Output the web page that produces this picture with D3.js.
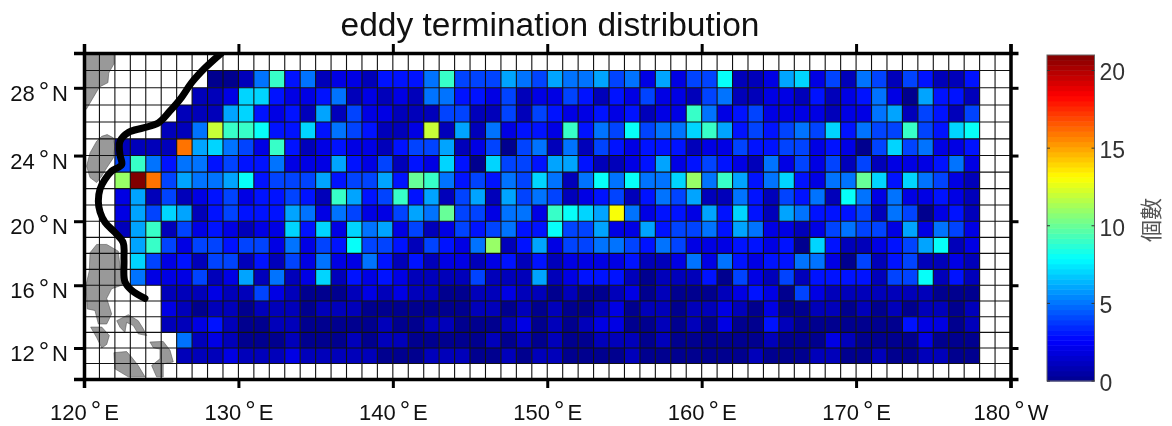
<!DOCTYPE html>
<html>
<head>
<meta charset="utf-8">
<title>eddy termination distribution</title>
<script src="https://cdnjs.cloudflare.com/ajax/libs/d3/7.8.5/d3.min.js"></script>
<style>
    html, body { margin: 0; background: #fff; }
    svg { display: block; filter: blur(0.7px); font-family: "Liberation Sans", Arial, sans-serif; }
</style>
</head>
<body>
<svg id="chart" width="1172" height="426"></svg>
<script>
const _ = null;

// counts per 1 degree box, columns are 122E .. 177E
const firstLon = 122;
const rowLats = [28, 27, 26, 25, 24, 23, 22, 21, 20, 19, 18, 17, 16, 15, 14, 13, 12, 11];
const row28 = [_,_,_,_,_,_, 0,0,1,5,9,3, 5, 1,2,2,1,3,3,3,5,9,4,4,4,6,5, 4,6,5,5,6,4,5,2,6,2,4,4,8,1,1, 2,6,7,2,4,1,5,4,1,4,3,1,1,3];
const row27 = [_,_,_,_,_, 1,1,2,7,7,3,2, 2, 3,5,1,2,1,2,1,5,5,3,3,2,4,1, 2,2,4,3,1,3,2,4,2,2,1,4,5,1,1, 2,2,1,3,1,2,3,5,2,0,6,3,3,1];
const row26 = [_,_,_,_, 1,1,1,6,7,3,2,3, 1, 6,1,4,2,2,1,1,1,4,4,1,1,4,1, 4,3,2,2,3,2,3,1,2,2,9,5,2,3,4, 2,2,2,2,1,2,2,5,6,1,4,3,1,4];
const row25 = [_,_,_, 1,1,5,12,9,9,8,3,3, 7, 3,5,4,3,1,1,2,12,1,6,1,5,2,3, 3,2,9,3,5,4,8,4,5,5,7,9,6,3,4, 3,4,5,4,7,3,5,4,4,9,4,3,7,8];
const row24 = [1,1,1,1,16,6,7,5,4,2,9,3, 1, 2,3,2,2,1,3,4,4,6,1,2,4,0,4, 5,1,5,1,4,3,2,3,3,3,1,2,2,4,3, 3,4,4,2,3,2,0,4,7,4,5,2,2,3];
const row23 = [4,9,5,3,5,5,3,4,3,3,5,2, 2, 2,6,3,2,4,1,3,2,7,3,0,7,4,4, 3,6,6,3,1,1,2,3,6,2,3,4,3,2,1, 5,2,4,2,4,1,4,1,2,2,2,3,5,2];
const row22 = [11,21,16,4,6,5,5,6,8,3,4,4, 4, 6,3,4,4,6,3,10,9,5,3,4,3,5,4, 7,5,1,5,8,5,8,5,5,7,11,5,9,6,3, 5,7,3,2,5,5,10,7,3,7,5,4,2,1];
const row21 = [2,6,1,4,1,2,3,4,2,3,3,4, 3, 1,9,6,3,4,9,3,6,1,4,6,1,6,4, 5,4,1,2,3,4,1,3,5,4,6,1,1,5,3, 1,4,3,5,1,8,5,2,5,2,2,3,2,1];
const row20 = [2,6,4,7,6,1,3,4,3,3,3,6, 5, 2,5,4,2,2,4,6,5,10,4,4,2,5,5, 2,9,8,7,6,13,5,2,3,3,2,6,3,7,3, 1,6,5,3,3,3,4,1,5,4,0,2,3,1];
const row19 = [1,6,9,1,4,2,3,2,1,2,2,7, 3, 7,2,7,5,6,2,4,1,2,4,3,4,5,3, 3,8,4,4,6,2,2,6,3,4,4,5,3,6,5, 2,2,1,2,4,5,4,4,2,6,2,5,4,2];
const row18 = [_, 6,9,4,2,4,4,3,4,4,2,5, 2, 4,3,8,4,4,3,1,4,3,2,5,11,1,3, 6,2,4,4,5,5,4,3,5,4,2,2,2,3,3, 2,3,0,7,3,1,1,2,3,4,6,8,1,2];
const row17 = [_, 7,4,2,3,1,4,4,1,3,1,4, 2, 5,2,2,5,3,1,3,1,2,2,1,2,3,1, 3,1,2,2,2,2,3,1,1,2,5,2,5,3,2, 3,3,5,5,2,0,4,1,3,4,1,1,2,1];
const row16 = [_, 5,2,2,2,4,1,2,6,1,5,1, 2, 7,1,3,2,3,2,1,1,1,1,4,1,1,1, 6,1,2,3,3,3,1,0,1,1,1,3,0,4,2, 1,4,1,3,3,3,3,1,4,4,8,1,3,1];
const row15 = [_,_,_, 1,1,1,2,1,1,4,2,1, 0, 0,0,1,2,1,2,1,1,0,0,1,1,2,1, 1,0,1,0,0,1,2,0,1,0,0,0,1,2,3, 2,0,4,2,1,1,1,1,1,1,1,0,0,0];
const row14 = [_,_,_, 2,1,0,1,1,0,1,1,1, 0, 1,1,1,0,0,0,0,0,0,0,1,1,0,1, 0,1,0,0,1,2,0,1,1,0,1,1,2,1,0, 2,0,0,1,1,0,1,0,1,0,1,1,0,1];
const row13 = [_,_,_, 1,1,2,3,1,0,0,1,1, 0, 0,0,0,0,1,0,0,1,1,0,0,0,1,2, 0,1,0,1,2,2,0,0,1,0,1,0,2,0,0, 3,1,0,0,0,0,0,0,0,3,2,2,0,1];
const row12 = [_,_,_,_, 5,1,2,1,0,0,0,1, 0, 0,0,1,0,1,1,0,0,0,0,0,1,0,1, 0,1,0,0,1,1,1,0,1,0,0,0,0,0,0, 1,0,0,0,2,1,0,0,0,0,2,0,0,0];
const row11 = [_,_,_,_, 1,1,1,2,1,1,1,2, 1, 1,1,1,1,0,0,0,1,1,1,0,0,1,0, 1,1,0,0,0,0,1,0,0,0,0,0,0,0,1, 0,0,0,1,1,0,0,1,0,0,1,1,0,0];
const rows = [row28, row27, row26, row25, row24, row23, row22, row21, row20, row19, row18, row17, row16, row15, row14, row13, row12, row11];

const lonTicks = [120, 130, 140, 150, 160, 170, 180];
const latTicks = [12, 16, 20, 24, 28];
const colorTicks = [0, 5, 10, 15, 20];

// coastlines, lon/lat
const chinaCoast = [[120,30],[121.94,30],[121.95,29.4],[121.6,28.85],[121.55,28.3],[121,28.05],[120.15,26.75],[120,26.9]];
const taiwan = [[121.5,25.25],[121.9,25.06],[122,24.56],[121.9,23.86],[121.47,23.26],[121.15,22.76],[120.82,22.37],[120.39,22.67],[120.17,23.36],[120.39,24.16],[120.82,24.86],[121.15,25.15]];
const luzon = [[120.39,18.04],[120.82,18.56],[121.47,18.56],[122.22,18.14],[122.33,17.2],[122.44,16],[121.79,15.78],[121.47,15.17],[121.79,14.18],[121.47,13.54],[120.93,13.54],[120.71,14.4],[120.21,14.5],[120.13,16],[120.34,16.9]];
const bicol = [[122.12,13.75],[122.87,14.13],[123.51,13.75],[123.84,13.23],[124.06,12.8],[123.51,12.91],[123.19,13.44],[122.76,13.64],[122.65,13],[122.33,13.33]];
const mindoro = [[120.43,13.34],[121.15,13.34],[121.64,12.8],[121.47,12.23],[121.15,12],[120.82,12.67]];
const samar = [[124.27,12.38],[125.13,12.42],[125.57,11.85],[125.78,11.1],[125.13,10.98],[125.13,10.14],[124.7,10.14],[124.38,10.87],[124.92,11.3],[124.92,11.93],[124.49,12.02]];
const panay = [[121.94,11.7],[122.76,11.77],[123.09,11.4],[123.51,10.87],[123.95,10.14],[122.87,10.14],[122,10.66]];
const lands = [chinaCoast, taiwan, luzon, bicol, mindoro, samar, panay];
const kuroshio = [[128.9,30],[127.83,29.14],[126.97,28.3],[126.32,27.45],[125.57,26.65],[124.81,25.94],[123.84,25.65],[122.87,25.38],[122.33,24.85],[122.33,24.05],[122.44,23.46],[121.79,23.06],[121.36,22.56],[121.04,21.98],[120.93,21.2],[121.04,20.57],[121.36,19.94],[122.01,19.3],[122.54,18.67],[122.59,17.62],[122.65,16.22],[123.09,15.68],[123.95,15.17]];

var merc = (lat) => Math.log(Math.tan(Math.PI / 4 + lat * Math.PI / 360));

var svg = d3.select("#chart");
var plot = { left: 84, right: 1010.5, top: 53, bottom: 379 };

var xScale = d3.scaleLinear().domain([120, 180]).range([plot.left, plot.right]);
var mercScale = d3.scaleLinear().domain([merc(10), merc(30)]).range([plot.bottom, plot.top]);
var yScale = (lat) => mercScale(merc(lat));

var colorScale = d3.scaleLinear()
    .domain([0, 0.125, 0.375, 0.625, 0.875, 1].map((f) => f * 21))
    .range(["#00008f", "#0000ff", "#00ffff", "#ffff00", "#ff0000", "#800000"])
    .clamp(true);

svg.append("defs").append("clipPath").attr("id", "plot-clip")
    .append("rect")
    .attr("x", plot.left).attr("y", plot.top)
    .attr("width", plot.right - plot.left).attr("height", plot.bottom - plot.top);

var map = svg.append("g").attr("clip-path", "url(#plot-clip)");

// cells
rows.forEach((row, r) => {
    var lat = rowLats[r];
    map.append("g").selectAll("rect")
        .data(row.map((v, i) => ({ lon: firstLon + i, value: v })).filter((d) => d.value !== null))
        .enter().append("rect")
        .attr("x", (d) => xScale(d.lon))
        .attr("y", yScale(lat + 1))
        .attr("width", (d) => xScale(d.lon + 1) - xScale(d.lon))
        .attr("height", yScale(lat) - yScale(lat + 1))
        .attr("fill", (d) => colorScale(d.value));
});

// land
var lonLatLine = d3.line().x((d) => xScale(d[0])).y((d) => yScale(d[1]));
map.append("g").selectAll("path")
    .data(lands)
    .enter().append("path")
    .attr("d", (d) => lonLatLine(d) + "Z")
    .attr("fill", "#999999")
    .attr("stroke", "#555555")
    .attr("stroke-width", 0.6);

// 1 degree grid
map.append("g").selectAll("line")
    .data(d3.range(120, 181))
    .enter().append("line")
    .attr("x1", (d) => xScale(d)).attr("x2", (d) => xScale(d))
    .attr("y1", plot.top).attr("y2", plot.bottom)
    .attr("stroke", "#111").attr("stroke-width", 1.1);

map.append("g").selectAll("line")
    .data(d3.range(10, 31))
    .enter().append("line")
    .attr("x1", plot.left).attr("x2", plot.right)
    .attr("y1", (d) => yScale(d)).attr("y2", (d) => yScale(d))
    .attr("stroke", "#111").attr("stroke-width", 1.1);

map.append("path")
    .datum(kuroshio)
    .attr("d", lonLatLine.curve(d3.curveCatmullRom))
    .attr("fill", "none")
    .attr("stroke", "#000")
    .attr("stroke-width", 7)
    .attr("stroke-linecap", "round");

// axes
function styleAxis(g) {
    g.selectAll(".domain").attr("stroke", "#000").attr("stroke-width", 3.5);
    g.selectAll(".tick line").attr("stroke", "#000").attr("stroke-width", 3);
}

function degreeLabels(g, values, hemi) {
    g.selectAll(".tick text").each(function (d, i) {
        var t = d3.select(this).text(null)
            .attr("fill", "#111")
            .style("font-size", "22px");
        t.append("tspan").text(values[i]);
        t.append("tspan").text("°").attr("dx", 4).attr("dy", -1).style("font-size", "26px");
        t.append("tspan").text(i === values.length - 1 && hemi === "E" ? "W" : hemi).attr("dx", 3).attr("dy", 1);
    });
}

var xAxis = d3.axisBottom(xScale).tickValues(lonTicks).tickSize(9).tickPadding(16);
var xTop = d3.axisTop(xScale).tickValues(lonTicks).tickSize(9).tickFormat("");
var yValues = mercScale.copy();
var yAxis = d3.axisLeft(yValues).tickValues(latTicks.map(merc)).tickSize(10).tickPadding(6);
var yRight = d3.axisRight(yValues).tickValues(latTicks.map(merc)).tickSize(8).tickFormat("");

svg.append("g").attr("transform", "translate(0," + plot.bottom + ")").call(xAxis).call(styleAxis)
    .call(degreeLabels, lonTicks, "E");
svg.append("g").attr("transform", "translate(0," + plot.top + ")").call(xTop).call(styleAxis);
svg.append("g").attr("transform", "translate(" + plot.left + ",0)").call(yAxis).call(styleAxis)
    .call(degreeLabels, latTicks, "N")
    .call((g) => g.selectAll(".tick text").attr("y", 5.5).attr("dy", "0.32em"));
svg.append("g").attr("transform", "translate(" + plot.right + ",0)").call(yRight).call(styleAxis);

// title
svg.append("text")
    .attr("x", 550).attr("y", 36)
    .attr("text-anchor", "middle")
    .attr("fill", "#111")
    .style("font-size", "33.5px")
    .text("eddy termination distribution");

// colour bar
var bar = { left: 1047, right: 1094.5, top: 55, bottom: 381 };
var barScale = d3.scaleLinear().domain([0, 21]).range([bar.bottom, bar.top]);
var levels = d3.range(0, 64);

svg.append("g").selectAll("rect")
    .data(levels)
    .enter().append("rect")
    .attr("x", bar.left)
    .attr("y", (d) => barScale((d + 1) * 21 / 64))
    .attr("width", bar.right - bar.left)
    .attr("height", (d) => barScale(d * 21 / 64) - barScale((d + 1) * 21 / 64) + 0.5)
    .attr("fill", (d) => colorScale((d + 0.5) * 21 / 64));

svg.append("rect")
    .attr("x", bar.left).attr("y", bar.top)
    .attr("width", bar.right - bar.left).attr("height", bar.bottom - bar.top)
    .attr("fill", "none").attr("stroke", "#666").attr("stroke-width", 1);

var barAxis = d3.axisRight(barScale).tickValues(colorTicks).tickSize(0).tickPadding(5);
svg.append("g").attr("transform", "translate(" + bar.right + ",0)").call(barAxis)
    .call((g) => g.select(".domain").remove())
    .call((g) => g.selectAll("text").attr("y", 2).attr("fill", "#333").style("font-size", "23px"));

svg.append("g").selectAll("line")
    .data(colorTicks.flatMap((v) => [[bar.left, bar.left + 3, v], [bar.right - 3, bar.right, v]]))
    .enter().append("line")
    .attr("x1", (d) => d[0]).attr("x2", (d) => d[1])
    .attr("y1", (d) => barScale(d[2])).attr("y2", (d) => barScale(d[2]))
    .attr("stroke", "#333");

svg.append("text")
    .attr("transform", "translate(1159,220) rotate(-90)")
    .attr("text-anchor", "middle")
    .attr("fill", "#555")
    .style("font-family", '"Noto Sans CJK TC", sans-serif')
    .style("font-size", "22px")
    .text("個數");
</script>
</body>
</html>
